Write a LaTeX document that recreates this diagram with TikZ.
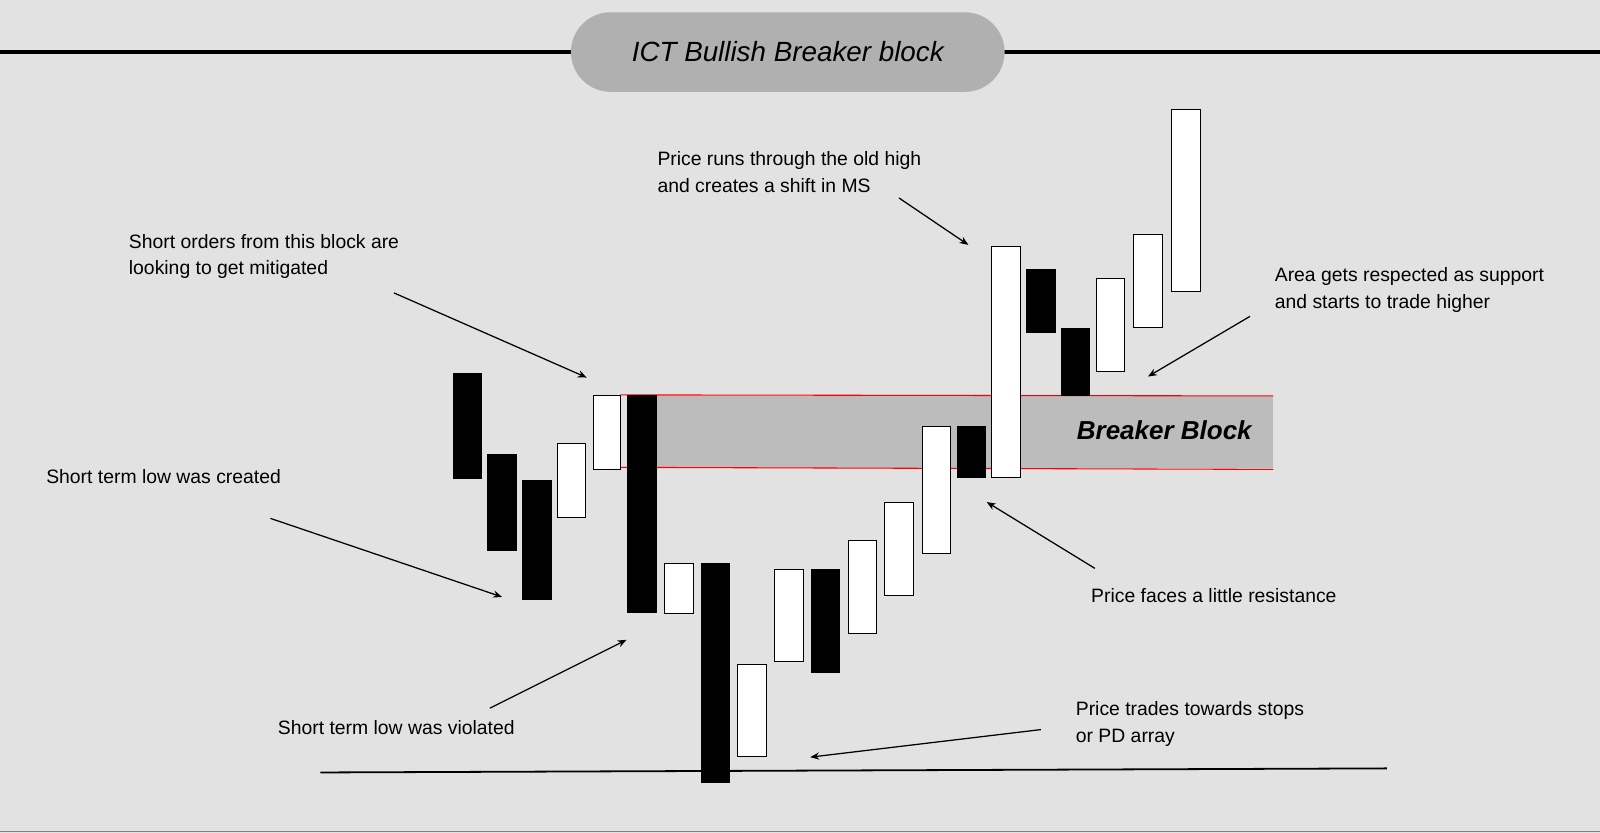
\documentclass[tikz,border=0pt]{standalone}
\usepackage{fontspec}
\setmainfont{Liberation Sans}
\usetikzlibrary{arrows.meta}
\begin{document}
\begin{tikzpicture}[x=0.02cm,y=-0.02cm,
 lbl/.style={font=\fontsize{10.8}{15}\selectfont,align=left,inner sep=0},
 bk/.style={fill=black,draw=black,line width=0.4pt},
 wh/.style={fill=white,draw=black,line width=0.4pt},
 arr/.style={-{Stealth[length=5pt,width=4pt]},line width=0.7pt}]
\fill[fill={rgb,255:red,226;green,226;blue,226}] (0,0) rectangle (1568,816);
\useasboundingbox (0,0) rectangle (1568,816);
\draw[line width=0.5pt,gray] (0,814.5)--(1568,814.5);
% title
\draw[line width=2pt] (0,51)--(570,51) (975,51)--(1568,51);
\node[fill={rgb,255:red,176;green,176;blue,176},rounded corners=0.78cm,minimum width=425*0.02cm,minimum height=78*0.02cm,font=\fontsize{15.5}{18}\selectfont\itshape] (title) at (772,51) {ICT Bullish Breaker block};
% breaker block
\fill[fill={rgb,255:red,188;green,188;blue,188}] (643,388) rectangle (1248,459);
\draw[red,line width=0.6pt] (608,387)--(1248,388) (608,458)--(1248,460);
\node[font=\fontsize{14.5}{17}\selectfont\bfseries\itshape] (bb) at (1141,422) {Breaker Block};
% candles
\foreach \a/\b/\c/\d/\s in {444/472/366/469/bk,478/506/445/539/bk,512/540/471/587/bk,546/574/434/507/wh,581/608/387/460/wh,615/643/387/600/bk,651/679/552/601/wh,687/715/552/767/bk,723/751/651/741/wh,759/787/558/648/wh,795/823/558/659/bk,831/859/530/621/wh,867/895/492/583/wh,904/931/418/542/wh,938/966/418/468/bk,972/1000/241/468/wh,1006/1034/264/326/bk,1040/1068/322/387/bk,1074/1102/273/364/wh,1111/1139/230/321/wh,1148/1176/107/286/wh}
  \draw[\s] (\a,\c) rectangle (\b,\d);
% bottom line
\coordinate (l1) at (314,757); \coordinate (l2) at (1359,753);
\draw[line width=1pt] (l1)--(l2);
% labels
\node[lbl,anchor=north west] (t1) at (126,229) {Short orders from this block are\\looking to get mitigated};
\node[lbl,anchor=north west] (t2) at (644,148) {Price runs through the old high\\and creates a shift in MS};
\node[lbl,anchor=north west] (t3) at (1249,262) {Area gets respected as support\\and starts to trade higher};
\node[lbl,anchor=west] (t4) at (45,467) {Short term low was created};
\node[lbl,anchor=west] (t5) at (1069,584) {Price faces a little resistance};
\node[lbl,anchor=west] (t6) at (272,713) {Short term low was violated};
\node[lbl,anchor=north west] (t7) at (1054,687) {Price trades towards stops\\or PD array};
% arrows
\coordinate (a1) at (386,287); \coordinate (b1) at (575,370);
\coordinate (a2) at (881,194); \coordinate (b2) at (949,240);
\coordinate (a3) at (1225,310); \coordinate (b3) at (1125,369);
\coordinate (a4) at (265,508); \coordinate (b4) at (492,585);
\coordinate (a5) at (1073,557); \coordinate (b5) at (967,492);
\coordinate (a6) at (480,694); \coordinate (b6) at (614,627);
\coordinate (a7) at (1020,715); \coordinate (b7) at (794,742);
\foreach \i in {1,...,7} \draw[arr] (a\i)--(b\i);
\end{tikzpicture}
\end{document}
